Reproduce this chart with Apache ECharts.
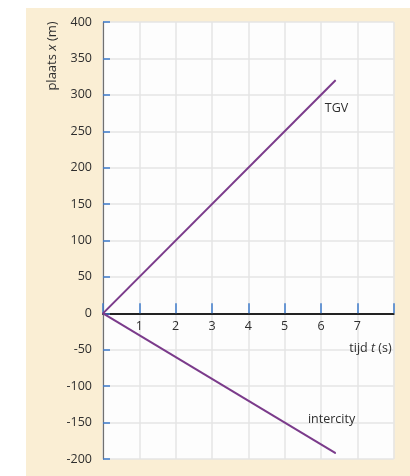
<!DOCTYPE html>
<html>
<head>
<meta charset="utf-8">
<script src="https://cdn.jsdelivr.net/npm/echarts@6/dist/echarts.min.js"></script>
<style>
  html, body { margin: 0; padding: 0; background: #ffffff; }
  #chart { width: 410px; height: 476px; }
</style>
</head>
<body>
<div id="chart"></div>
<script>
// Time (s) at the start and end of each drawn line
const timeValues = [0, 6.4];
// Position (m) of each train at those times
const tgvPositions = [0, 320];
const intercityPositions = [0, -192];
// Axis ranges and tick steps
const xRange = [0, 8];
const xStep = 1;
const yRange = [-200, 400];
const yStep = 50;
// Which x tick values carry a label
const xLabelledTicks = [1, 2, 3, 4, 5, 6, 7];

const FONT = '"Open Sans", sans-serif';
const TEXT = '#2e2e2e';
const PURPLE = '#7b3b8b';
const TICK_BLUE = '#3f7ccc';

const GRID = { left: 103, top: 22, width: 290.7, height: 437 };
// The time axis runs along position 0, so lift it from the bottom of the grid
const zeroLift = GRID.height * (0 - yRange[0]) / (yRange[1] - yRange[0]);

function seriesData(values, label) {
  const last = values.length - 1;
  return values.map((v, i) => {
    const item = { value: [timeValues[i], v] };
    if (i === last) item.label = label;
    return item;
  });
}

const chart = echarts.init(document.getElementById('chart'), null, { renderer: 'canvas' });

chart.setOption({
  animation: false,
  backgroundColor: '#ffffff',
  graphic: [
    {
      type: 'rect', z: -10, silent: true,
      shape: { x: 26, y: 8, width: 384, height: 468 },
      style: { fill: '#faeed4' }
    },
    {
      type: 'text', z: 10, silent: true,
      x: 52, y: 56, rotation: Math.PI / 2,
      style: {
        text: '{a|plaats }{i|x}{a| (m)}',
        align: 'center', verticalAlign: 'middle',
        rich: {
          a: { fontFamily: FONT, fontSize: 13, fill: TEXT, color: TEXT },
          i: { fontFamily: FONT, fontSize: 13, fontStyle: 'italic', fill: TEXT, color: TEXT }
        }
      }
    }
  ],
  grid: Object.assign({ show: true, backgroundColor: '#fdfdfd', borderWidth: 0 }, GRID),
  xAxis: {
    type: 'value', min: xRange[0], max: xRange[1], interval: xStep,
    offset: -zeroLift,
    axisLine: { onZero: false, lineStyle: { color: '#222222', width: 2 } },
    axisTick: { inside: true, length: 10, lineStyle: { color: TICK_BLUE, width: 1.5 } },
    axisLabel: {
      margin: 7,
      fontFamily: FONT, fontSize: 12.5, color: TEXT,
      formatter: v => (xLabelledTicks.indexOf(v) >= 0 ? String(v) : '')
    },
    splitLine: { show: true, lineStyle: { color: '#e4e4e4', width: 1.5 } },
    name: '{a|tijd }{i|t}{a| (s)}',
    nameLocation: 'end',
    nameGap: -2,
    nameTextStyle: {
      align: 'right', verticalAlign: 'top', padding: [29, 0, 0, 0],
      rich: {
        a: { fontFamily: FONT, fontSize: 12.5, color: TEXT },
        i: { fontFamily: FONT, fontSize: 12.5, color: TEXT, fontStyle: 'italic' }
      }
    }
  },
  yAxis: {
    type: 'value', min: yRange[0], max: yRange[1], interval: yStep,
    axisLine: { show: true, onZero: false, lineStyle: { color: '#707070', width: 1.2 } },
    axisTick: { show: true, inside: true, length: 7, lineStyle: { color: TICK_BLUE, width: 1.5 } },
    axisLabel: { margin: 11, fontFamily: FONT, fontSize: 12.5, color: TEXT },
    splitLine: { show: true, lineStyle: { color: '#e4e4e4', width: 1.5 } }
  },
  series: [
    {
      name: 'TGV', type: 'line',
      symbol: 'circle', symbolSize: 1, showSymbol: true,
      itemStyle: { color: PURPLE },
      lineStyle: { color: PURPLE, width: 2 },
      label: { show: false },
      data: seriesData(tgvPositions, {
        show: true, position: 'bottom', distance: 21, offset: [1, 0],
        formatter: 'TGV', fontFamily: FONT, fontSize: 12.5, color: TEXT
      })
    },
    {
      name: 'intercity', type: 'line',
      symbol: 'circle', symbolSize: 1, showSymbol: true,
      itemStyle: { color: PURPLE },
      lineStyle: { color: PURPLE, width: 2 },
      label: { show: false },
      data: seriesData(intercityPositions, {
        show: true, position: 'top', distance: 27, offset: [-4, 0],
        formatter: 'intercity', fontFamily: FONT, fontSize: 12.5, color: TEXT
      })
    }
  ]
});
</script>
</body>
</html>
